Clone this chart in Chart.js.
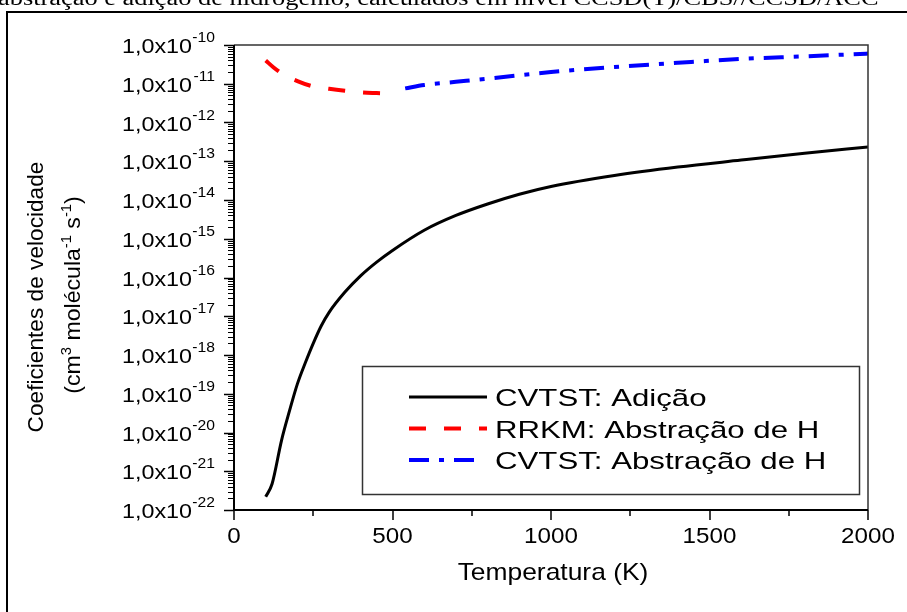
<!DOCTYPE html>
<html>
<head>
<meta charset="utf-8">
<script src="https://cdn.jsdelivr.net/npm/chart.js@4.4.0/dist/chart.umd.min.js"></script>
<style>
  body { margin: 0; background: #fff; }
</style>
</head>
<body>
<canvas id="rateChart" width="907" height="612"></canvas>
<script>
// temperaturas (K) e coeficientes de velocidade (cm3 molecula-1 s-1)
const tempsAdicao = [100, 120, 150, 175, 200, 225, 250, 275, 300, 350, 400, 450, 500, 600, 700, 800, 900, 1000, 1200, 1400, 1600, 1800, 2000];
const kAdicao = [2.2e-22, 4.7e-22, 6.3e-21, 3.6e-20, 1.8e-19, 6.3e-19, 2.0e-18, 5.6e-18, 1.26e-17, 4.2e-17, 1.12e-16, 2.5e-16, 5.0e-16, 1.66e-15, 4.0e-15, 7.9e-15, 1.41e-14, 2.24e-14, 4.3e-14, 7.1e-14, 1.07e-13, 1.6e-13, 2.35e-13];

const tempsRRKM = [100, 125, 150, 200, 250, 300, 350, 400, 450, 490];
const kRRKM = [3.98e-11, 2.63e-11, 1.86e-11, 1.17e-11, 8.5e-12, 7.4e-12, 6.6e-12, 6.0e-12, 5.75e-12, 5.6e-12];

const tempsAbstr = [540, 600, 700, 800, 900, 1000, 1200, 1400, 1600, 1800, 2000];
const kAbstr = [7.6e-12, 9.3e-12, 1.12e-11, 1.35e-11, 1.66e-11, 2.0e-11, 2.7e-11, 3.47e-11, 4.37e-11, 5.1e-11, 6.0e-11];

const xTicks = [0, 500, 1000, 1500, 2000];
const xMinorTicks = [250, 750, 1250, 1750];
const yExps = [-10, -11, -12, -13, -14, -15, -16, -17, -18, -19, -20, -21, -22];

const FONT = "'Liberation Sans', Arial, sans-serif";

function pts(xs, ys) {
    return xs.map((x, i) => ({ x: x, y: ys[i] }));
}

// texto esticado na horizontal
function drawText(c, txt, x, y, size, sx, align, family) {
    c.save();
    c.font = size + "px " + (family || FONT);
    const w = c.measureText(txt).width * sx;
    let x0 = x;
    if (align === "center") x0 = x - w / 2;
    else if (align === "right") x0 = x - w;
    c.translate(x0, y);
    c.scale(sx, 1);
    c.textAlign = "left";
    c.textBaseline = "alphabetic";
    c.fillText(txt, 0, 0);
    c.restore();
    return w;
}

const framePlugin = {
    id: "frame",
    beforeDraw(chart) {
        const c = chart.ctx;
        c.save();
        c.fillStyle = "#fff";
        c.fillRect(0, 0, chart.width, chart.height);
        c.fillStyle = "#000";
        drawText(c, "abstração e adição de hidrogênio, calculados em nível CCSD(T)/CBS//CCSD/ACC", -2, 5, 20, 1.32, "left", "'Liberation Serif', 'Times New Roman', serif");
        c.strokeStyle = "#000";
        c.lineWidth = 2;
        c.beginPath();
        c.moveTo(7, 613);
        c.lineTo(7, 12);
        c.lineTo(908, 12);
        c.stroke();
        c.restore();
    },
    afterDatasetsDraw(chart) {
        const c = chart.ctx;
        const a = chart.chartArea;
        const xs = chart.scales.x;
        const ys = chart.scales.y;
        c.save();

        // moldura do gráfico
        c.strokeStyle = "#333";
        c.lineWidth = 1.5;
        c.beginPath();
        c.moveTo(a.left, a.top);
        c.lineTo(a.right, a.top);
        c.lineTo(a.right, a.bottom);
        c.stroke();

        c.strokeStyle = "#000";
        c.lineWidth = 2;
        c.beginPath();
        c.moveTo(a.left, a.top);
        c.lineTo(a.left, a.bottom);
        c.lineTo(a.right, a.bottom);
        c.stroke();

        // ticks eixo x
        c.lineWidth = 1.5;
        c.beginPath();
        xTicks.forEach(v => {
            const px = Math.round(xs.getPixelForValue(v));
            c.moveTo(px, a.bottom);
            c.lineTo(px, a.bottom + 10);
        });
        xMinorTicks.forEach(v => {
            const px = Math.round(xs.getPixelForValue(v));
            c.moveTo(px, a.bottom);
            c.lineTo(px, a.bottom + 6);
        });
        // ticks eixo y
        yExps.forEach(e => {
            const py = Math.round(ys.getPixelForValue(Math.pow(10, e))) + 0.5;
            c.moveTo(a.left, py);
            c.lineTo(a.left - 10, py);
        });
        c.stroke();
        c.lineWidth = 1;
        c.beginPath();
        yExps.forEach(e => {
            if (e === -10) return;
            for (let k = 2; k <= 9; k++) {
                const py = Math.round(ys.getPixelForValue(k * Math.pow(10, e))) + 0.5;
                c.moveTo(a.left, py);
                c.lineTo(a.left - 6, py);
            }
        });
        c.stroke();

        // rótulos
        c.fillStyle = "#000";
        xTicks.forEach(v => {
            drawText(c, String(v), xs.getPixelForValue(v), a.bottom + 33, 22, 1.1, "center");
        });
        yExps.forEach(e => {
            const py = ys.getPixelForValue(Math.pow(10, e));
            drawText(c, "1,0x10", 192, py + 8, 21, 1.11, "right");
            drawText(c, String(e), 215, py - 3, 14, 1.12, "right");
        });

        drawText(c, "Temperatura (K)", 553, 580, 24, 1.1, "center");

        // título do eixo y, girado
        c.save();
        c.translate(43, 297);
        c.rotate(-Math.PI / 2);
        drawText(c, "Coeficientes de velocidade", 0, 0, 22, 1.03, "center");
        c.restore();

        c.save();
        c.translate(80, 295);
        c.rotate(-Math.PI / 2);
        const runs = [["(cm", 0], ["3", 1], [" molécula", 0], ["-1", 1], [" s", 0], ["-1", 1], [")", 0]];
        let total = 0;
        runs.forEach(r => {
            c.font = (r[1] ? 14 : 22) + "px " + FONT;
            total += c.measureText(r[0]).width * 1.05;
        });
        let cx = -total / 2;
        runs.forEach(r => {
            cx += drawText(c, r[0], cx, r[1] ? -9 : 0, r[1] ? 14 : 22, 1.05, "left");
        });
        c.restore();

        // legenda
        const box = { l: 362, t: 366, r: 859, b: 494 };
        c.fillStyle = "#fff";
        c.fillRect(box.l, box.t, box.r - box.l, box.b - box.t);
        c.strokeStyle = "#333";
        c.lineWidth = 1.5;
        c.strokeRect(box.l + 0.5, box.t + 0.5, box.r - box.l, box.b - box.t);
        chart.data.datasets.forEach((ds, i) => {
            const ly = 397 + i * 31.5;
            c.save();
            c.strokeStyle = ds.borderColor;
            c.lineWidth = ds.borderWidth;
            c.setLineDash(ds.borderDash || []);
            c.beginPath();
            c.moveTo(409, ly);
            c.lineTo(i === 2 ? 476 : 487, ly);
            c.stroke();
            c.restore();
            c.fillStyle = "#000";
            drawText(c, ds.label, 495, ly + 9, 24, 1.3, "left");
        });

        c.restore();
    }
};

const ctx = document.getElementById("rateChart");

new Chart(ctx, {
    type: "line",
    data: {
        datasets: [{
            label: "CVTST: Adição",
            data: pts(tempsAdicao, kAdicao),
            borderColor: "#000000",
            borderWidth: 3,
            pointRadius: 0,
            cubicInterpolationMode: "monotone"
        }, {
            label: "RRKM: Abstração de H",
            data: pts(tempsRRKM, kRRKM),
            borderColor: "#ff0000",
            borderWidth: 4,
            borderDash: [17, 18],
            pointRadius: 0,
            cubicInterpolationMode: "monotone"
        }, {
            label: "CVTST: Abstração de H",
            data: pts(tempsAbstr, kAbstr),
            borderColor: "#0000ff",
            borderWidth: 4,
            borderDash: [20, 10, 5, 10],
            pointRadius: 0,
            cubicInterpolationMode: "monotone"
        }]
    },
    options: {
        responsive: false,
        animation: false,
        layout: {
            padding: { left: 234, right: 39, top: 45, bottom: 102 }
        },
        plugins: {
            legend: { display: false },
            tooltip: { enabled: false }
        },
        scales: {
            x: { type: "linear", min: 0, max: 2000, display: false },
            y: { type: "logarithmic", min: 1e-22, max: 1e-10, display: false }
        }
    },
    plugins: [framePlugin]
});
</script>
</body>
</html>
